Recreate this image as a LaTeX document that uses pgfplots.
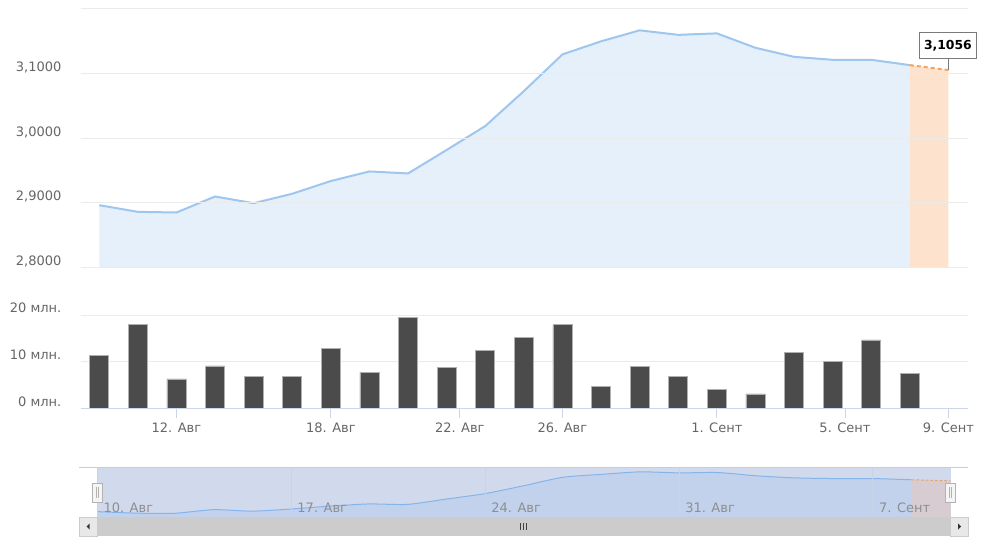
\documentclass[border=0pt]{standalone}
\usepackage{pgfplots}
\pgfplotsset{compat=1.18}
\usepackage{pgfplotstable}
\usepackage{fontspec}
\setmainfont{DejaVu Sans}

\definecolor{gridc}{HTML}{EBEBEB}
\definecolor{lbl}{HTML}{666666}
\definecolor{priceline}{HTML}{9EC6EF}
\definecolor{pricefill}{HTML}{E5F0FB}
\definecolor{fcline}{HTML}{F7A35C}
\definecolor{fcfill}{HTML}{FDE3CE}
\definecolor{vol}{HTML}{4B4B4B}
\definecolor{volb}{HTML}{B0B0B0}
\definecolor{axisln}{HTML}{CCD6EB}
\definecolor{callb}{HTML}{7A7A7A}
\definecolor{navmask}{HTML}{D1DAED}
\definecolor{navfill}{HTML}{C2D2EC}
\definecolor{navline}{HTML}{85B4EA}
\definecolor{navfc}{HTML}{D6CCD2}
\definecolor{navfcline}{HTML}{E7A26C}
\definecolor{navgrid}{HTML}{C9D3E8}
\definecolor{navlbl}{HTML}{8E8E8E}

% price by trading day (0 = 10 Aug, 21 = 8 Sep)
\pgfplotstableread{
i p
0 2.8966
1 2.8863
2 2.8853
3 2.9100
4 2.8997
5 2.9143
6 2.9340
7 2.9488
8 2.9457
9 2.9820
10 3.0190
11 3.0730
12 3.1298
13 3.1500
14 3.1670
15 3.1600
16 3.1623
17 3.1400
18 3.1260
19 3.1214
20 3.1214
21 3.1132
}\price

% forecast for 9 Sep
\pgfplotstableread{
i p
21 3.1132
22 3.1056
}\fcast

% volume, millions
\pgfplotstableread{
i v
0 11.4
1 17.9
2 6.4
3 9.15
4 6.95
5 6.95
6 12.8
7 7.8
8 19.5
9 8.9
10 12.5
11 15.2
12 17.9
13 4.75
14 9.1
15 6.95
16 4.25
17 3.2
18 12.05
19 10.15
20 14.7
21 7.5
}\volume

\newcommand\lblfont{\fontsize{9.75}{11}\selectfont}

\begin{document}
\begin{tikzpicture}
\useasboundingbox (0,0) rectangle (756pt,-417pt);
\fill[white] (0,0) rectangle (756pt,-417pt);

% price panel
\begin{axis}[
  at={(60.5pt,-6.75pt)}, anchor=north west,
  scale only axis, width=665.7pt, height=194pt,
  xmin=-0.482, xmax=22.513, ymin=2.8, ymax=3.2,
  axis line style={draw=none},
  xtick=\empty,
  ytick={2.8,2.9,3.0,3.1,3.2},
  yticklabels={{2,8000},{2,9000},{3,0000},{3,1000},{}},
  major tick length=0pt,
  ymajorgrids, grid style={gridc, line width=0.75pt},
  yticklabel style={anchor=east, inner sep=0pt, xshift=-14.25pt, yshift=4.6pt, font=\lblfont, text=lbl},
  axis on top, clip mode=individual,
]
\addplot[draw=none, fill=pricefill] table[x=i,y=p]{\price} \closedcycle;
\addplot[draw=none, fill=fcfill] table[x=i,y=p]{\fcast} \closedcycle;
\addplot[priceline, line width=1.5pt] table[x=i,y=p]{\price};
\addplot[fcline, line width=1.5pt, dash pattern=on 3pt off 2.25pt] table[x=i,y=p]{\fcast};
\draw[callb, line width=0.75pt] (axis cs:22,3.1056) -- ([yshift=8.6pt]axis cs:22,3.1056);
\node[draw=callb, fill=white, line width=0.75pt, minimum width=42.5pt, minimum height=19pt,
  inner sep=0pt, anchor=south, yshift=8.6pt, xshift=-0.4pt,
  font=\bfseries\fontsize{9.3}{11}\selectfont] at (axis cs:22,3.1056) {3,1056};
\end{axis}

% volume panel
\begin{axis}[
  at={(60.5pt,-236.25pt)}, anchor=north west,
  scale only axis, width=665.7pt, height=70.5pt,
  xmin=-0.482, xmax=22.513, ymin=0, ymax=20,
  axis line style={draw=none},
  ybar, bar width=14.25pt,
  xtick={2,6,9.34,12,16,19.32,22},
  xticklabels={12. Авг,18. Авг,22. Авг,26. Авг,1. Сент,5. Сент,9. Сент},
  xtick pos=left,
  major tick length=6.75pt,
  xtick style={axisln, line width=0.75pt},
  ytick={0,10,20}, yticklabels={0 млн.,10 млн.,20 млн.},
  ytick style={draw=none},
  ymajorgrids, grid style={gridc, line width=0.75pt},
  yticklabel style={anchor=east, inner sep=0pt, xshift=-14.25pt, yshift=5.25pt, font=\lblfont, text=lbl},
  xticklabel style={anchor=north, inner sep=0pt, yshift=-3.4pt, font=\lblfont, text=lbl},
  extra description/.code={\draw[axisln, line width=0.75pt] (0,0) -- (1,0);},
]
\addplot[fill=vol, draw=volb, line width=0.6pt] table[x=i,y=v]{\volume};
\end{axis}

% navigator
\begin{axis}[
  at={(72.975pt,-350.25pt)}, anchor=north west,
  scale only axis, width=639.9pt, height=37.5pt,
  xmin=0, xmax=22, ymin=2.86, ymax=3.2,
  axis line style={draw=none},
  axis background/.style={fill=navmask},
  xtick={0,5,10,15,20},
  xticklabels={10. Авг,17. Авг,24. Авг,31. Авг,7. Сент},
  xmajorgrids, grid style={navgrid, line width=0.75pt},
  major tick length=0pt, ytick=\empty,
  xticklabel style={anchor=west, inner sep=0pt, xshift=4.5pt, yshift=7.1pt, font=\lblfont, text=navlbl},
  axis on top,
]
\addplot[draw=none, fill=navfill, smooth, tension=0.4] table[x=i,y=p]{\price} \closedcycle;
\addplot[draw=none, fill=navfc] table[x=i,y=p]{\fcast} \closedcycle;
\addplot[navline, line width=0.75pt, smooth, tension=0.4] table[x=i,y=p]{\price};
\addplot[navfcline, line width=0.75pt, dash pattern=on 2pt off 1.5pt] table[x=i,y=p]{\fcast};
\end{axis}

% navigator outline, handles and scrollbar (pixel coordinates)
\begin{scope}[x=0.75pt, y=-0.75pt]
\draw[gray!40, line width=0.75pt] (79.3,467) -- (968,467);
\fill[gray!10] (79.3,517) rectangle (968,536);
\fill[gray!40] (97.3,517) rectangle (950.5,536);
\filldraw[fill=gray!18, draw=gray!40, line width=0.75pt] (79.3,517) rectangle (97.3,536);
\filldraw[fill=gray!18, draw=gray!40, line width=0.75pt] (950.5,517) rectangle (968,536);
\fill[black!80] (86.6,526.5) -- (89.6,523.5) -- (89.6,529.5) -- cycle;
\fill[black!80] (961,526.5) -- (958,523.5) -- (958,529.5) -- cycle;
\foreach \gx in {520.5,523.5,526.5} \draw[black!75, line width=0.75pt] (\gx,523) -- (\gx,530);
\foreach \hx in {92.3,945.3} {
  \filldraw[fill=gray!8, draw=gray!60, line width=0.75pt] (\hx,483) rectangle (\hx+10,502);
  \draw[gray!60, line width=0.6pt] (\hx+4,487) -- (\hx+4,498);
  \draw[gray!60, line width=0.6pt] (\hx+6,487) -- (\hx+6,498);
}
\end{scope}
\end{tikzpicture}
\end{document}
